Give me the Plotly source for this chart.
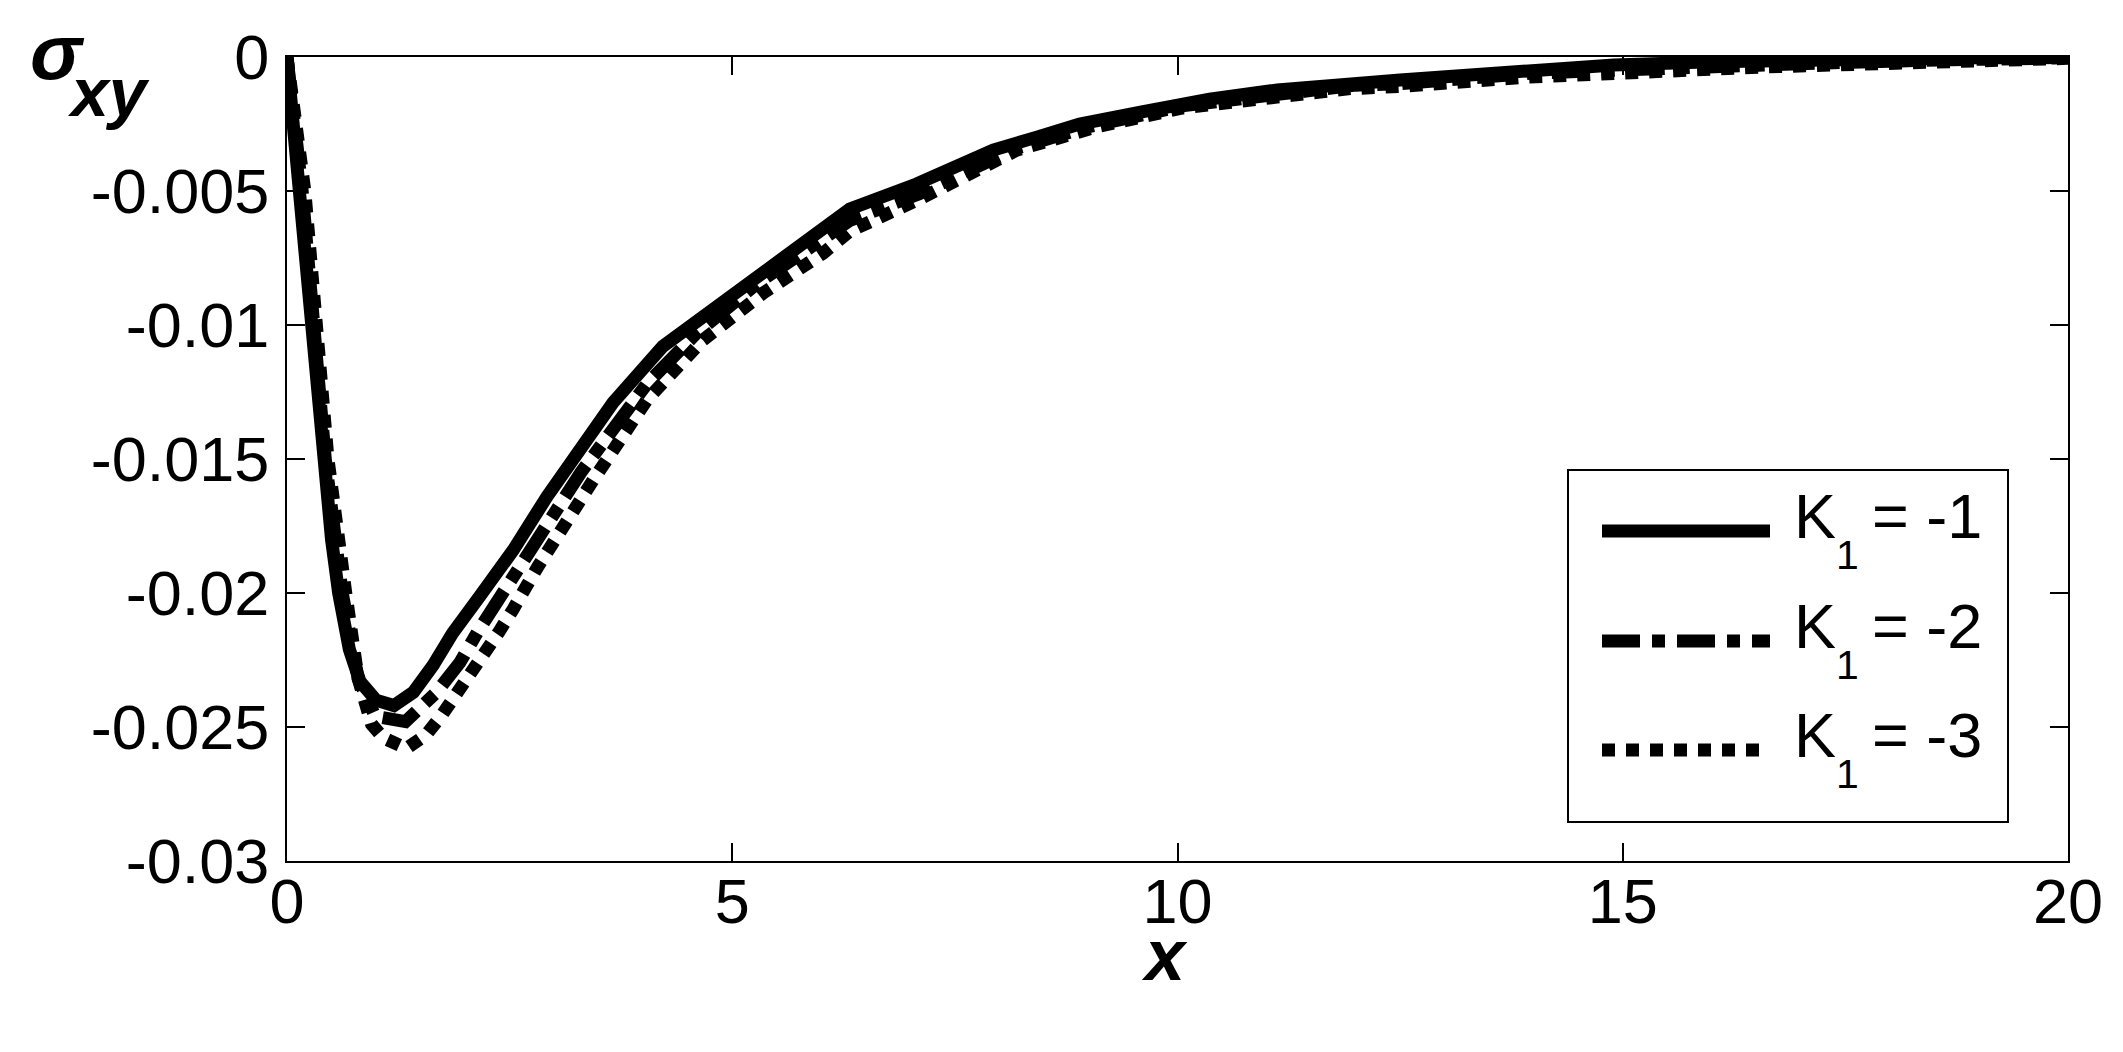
import plotly.graph_objects as go

# sigma_xy along x for three values of K1
x_k1 = [0, 0.13, 0.26, 0.39, 0.5, 0.58, 0.7, 0.82, 1.0, 1.2, 1.42, 1.64, 1.86, 2.17, 2.54, 2.92,
        3.29, 3.66, 4.22, 4.7, 5.17, 5.54, 5.9, 6.32, 7.07, 7.93, 8.42, 8.9, 9.6, 10.36, 11.12,
        12.13, 12.5, 13.94, 14.9, 16, 17, 18, 19, 20]
y_k1 = [0, -0.0050, -0.0100, -0.0150, -0.0180, -0.0200, -0.0221, -0.0233, -0.0240, -0.0242,
        -0.0237, -0.0227, -0.0215, -0.0201, -0.0184, -0.0164, -0.0146, -0.0129, -0.0108, -0.0096,
        -0.0084, -0.0075, -0.0066, -0.00567, -0.00474, -0.00347, -0.00299, -0.0025, -0.00205,
        -0.00157, -0.00123, -0.00091, -0.00086, -0.00052, -0.0003, -0.00018, -0.0001, -0.00006,
        -0.00003, -0.00002]

x_k2 = [0, 0.17, 0.30, 0.43, 0.62, 0.8, 0.99, 1.33, 1.68, 1.94, 2.15, 2.39, 2.8, 3.3, 4.04, 4.6,
        5.3, 6.0, 6.32, 7.1, 8.2, 9.0, 10.1, 12.0, 12.5, 14.0, 15.0, 16.1, 17.0, 18.4, 20]
y_k2 = [0, -0.0050, -0.0100, -0.0150, -0.0200, -0.0232, -0.0246, -0.0248, -0.0237, -0.0226,
        -0.0214, -0.0202, -0.0181, -0.0155, -0.0122, -0.0103, -0.0084, -0.0069, -0.0061, -0.0051,
        -0.0034, -0.0026, -0.0018, -0.00105, -0.0010, -0.0006, -0.00045, -0.0003, -0.00025,
        -0.00012, -0.00003]

x_k3 = [0, 0.2, 0.33, 0.46, 0.66, 0.8, 0.95, 1.08, 1.34, 1.56, 1.74, 1.91, 2.06, 2.22, 2.38, 2.54,
        2.67, 2.82, 3.44, 4.04, 4.67, 5.35, 6.02, 6.32, 7.1, 8.2, 9.1, 10.06, 11.94, 12.5, 13.94,
        14.9, 16.1, 16.6, 18.4, 20]
y_k3 = [0, -0.0050, -0.0100, -0.0150, -0.0200, -0.0232, -0.0249, -0.0254, -0.0258, -0.0253,
        -0.02455, -0.02377, -0.0230, -0.0222, -0.02145, -0.0206, -0.0198, -0.0190, -0.01578,
        -0.0128, -0.01056, -0.0088, -0.00732, -0.0065, -0.0053, -0.00347, -0.0026, -0.0019,
        -0.00118, -0.0011, -0.00075, -0.0006, -0.00045, -0.00037, -0.0002, -0.00005]

series_names = ["K<sub>1</sub> = -1", "K<sub>1</sub> = -2", "K<sub>1</sub> = -3"]
legend_vals = ["= -1", "= -2", "= -3"]

x_tickvals = [0, 5, 10, 15, 20]
x_ticktext = ["0", "5", "10", "15", "20"]
y_tickvals = [0, -0.005, -0.01, -0.015, -0.02, -0.025, -0.03]
y_ticktext = ["0", "-0.005", "-0.01", "-0.015", "-0.02", "-0.025", "-0.03"]

# page is 2123x1052, the body has an 8px margin around the figure div
OFF = 8
W, H = 2123 - OFF, 1052 - 2 * OFF
PL, PR, PT, PB = 287, 2068, 57, 861          # plot area on the page
L, T = PL - OFF, PT - OFF
R, B = W - (PR - OFF), H - (PB - OFF)
FONT = "Liberation Sans, Arial, sans-serif"
LW = 13
dashes = ["solid", "38px,12px,13px,12px", "13px,11px"]


def px(xp):
    return (xp - PL) / (PR - PL)


def py(yp):
    return (PB - yp) / (PB - PT)


fig = go.Figure()
for xs, ys, name, dash in zip([x_k1, x_k2, x_k3], [y_k1, y_k2, y_k3], series_names, dashes):
    fig.add_trace(go.Scatter(x=xs, y=ys, mode="lines", name=name, showlegend=False,
                             line=dict(color="black", width=LW, dash=dash)))

axis_common = dict(showline=True, mirror="ticks", linecolor="black", linewidth=2,
                   ticks="inside", ticklen=18, tickwidth=2, tickcolor="black",
                   showgrid=False, zeroline=False,
                   tickfont=dict(family=FONT, size=63, color="black"))

fig.update_xaxes(range=[0, 20], tickvals=x_tickvals, ticktext=x_ticktext,
                 ticklabelstandoff=-16, **axis_common)
fig.update_yaxes(range=[-0.03, 0], tickvals=y_tickvals, ticktext=y_ticktext,
                 ticklabelstandoff=3, **axis_common)

shapes = [dict(type="rect", xref="paper", yref="paper", x0=px(1568), x1=px(2008),
               y0=py(822), y1=py(470), line=dict(color="black", width=2), fillcolor="white",
               layer="above")]
annotations = []
rows = [531, 641, 750]
for r, dash, val in zip(rows, dashes, legend_vals):
    shapes.append(dict(type="line", xref="paper", yref="paper", x0=px(1602), x1=px(1770),
                       y0=py(r), y1=py(r), line=dict(color="black", width=LW, dash=dash),
                       layer="above"))
    annotations.append(dict(text="K", x=px(1792), y=py(r - 15), xref="paper", yref="paper",
                            xanchor="left", yanchor="middle", showarrow=False,
                            font=dict(family=FONT, size=63, color="black")))
    annotations.append(dict(text="1", x=px(1834), y=py(r + 24), xref="paper", yref="paper",
                            xanchor="left", yanchor="middle", showarrow=False,
                            font=dict(family=FONT, size=41, color="black")))
    annotations.append(dict(text=val, x=px(1870), y=py(r - 15), xref="paper", yref="paper",
                            xanchor="left", yanchor="middle", showarrow=False,
                            font=dict(family=FONT, size=63, color="black")))

# axis titles, placed like the original
annotations.append(dict(text="<b><i>σ</i></b>", x=px(28), y=py(52), xref="paper", yref="paper",
                        xanchor="left", yanchor="middle", showarrow=False,
                        font=dict(family=FONT, size=78, color="black")))
annotations.append(dict(text="<b><i>xy</i></b>", x=px(66), y=py(92), xref="paper", yref="paper",
                        xanchor="left", yanchor="middle", showarrow=False,
                        font=dict(family=FONT, size=68, color="black")))
annotations.append(dict(text="<b><i>x</i></b>", x=px(1164), y=py(955), xref="paper", yref="paper",
                        xanchor="center", yanchor="middle", showarrow=False,
                        font=dict(family=FONT, size=72, color="black")))

fig.update_layout(width=W, height=H, margin=dict(l=L, r=R, t=T, b=B, autoexpand=False),
                  paper_bgcolor="white", plot_bgcolor="white",
                  shapes=shapes, annotations=annotations, showlegend=False)

fig.write_html("out.html")
